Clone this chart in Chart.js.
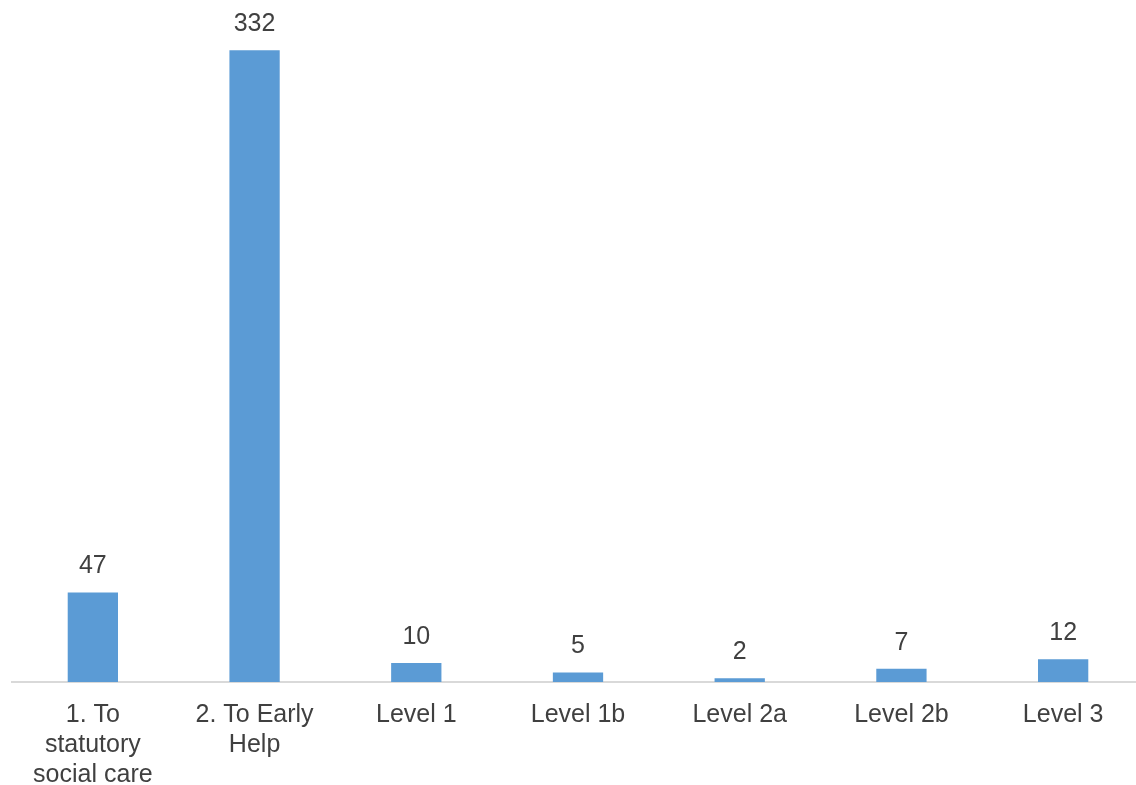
<!DOCTYPE html>
<html>
<head>
<meta charset="utf-8">
<script src="https://cdn.jsdelivr.net/npm/chart.js@4/dist/chart.umd.min.js"></script>
<style>
  html, body { margin:0; padding:0; background:#fff; overflow:hidden; }
  #wrap { position:relative; width:1144px; height:785px; }
</style>
</head>
<body>
<div id="wrap"><canvas id="referralChart"></canvas></div>
<script>
// categories (already wrapped the way the original shows them)
var categories = [
  ['1. To', 'statutory', 'social care'],
  ['2. To Early', 'Help'],
  'Level 1',
  'Level 1b',
  'Level 2a',
  'Level 2b',
  'Level 3'
];
var counts = [47, 332, 10, 5, 2, 7, 12];
var yMax = 350;

// value labels above each bar
var valueLabels = {
  id: 'valueLabels',
  afterDatasetsDraw: function(chart){
    var ctx = chart.ctx;
    var meta = chart.getDatasetMeta(0);
    ctx.save();
    ctx.font = '25px "Liberation Sans", Arial, sans-serif';
    ctx.fillStyle = '#404040';
    ctx.textAlign = 'center';
    ctx.textBaseline = 'middle';
    meta.data.forEach(function(bar, i){
      ctx.fillText(String(counts[i]), bar.x, bar.y - 26);
    });
    ctx.restore();
  }
};

new Chart(document.getElementById('referralChart'), {
  type: 'bar',
  data: {
    labels: categories,
    datasets: [{ data: counts, backgroundColor: '#5b9bd5', categoryPercentage: 1, barPercentage: 0.311 }]
  },
  options: {
    responsive: true,
    maintainAspectRatio: false,
    animation: false,
    layout: { padding: { left: 12, right: 0, top: 16, bottom: -23 } },
    plugins: { legend: { display: false }, tooltip: { enabled: false } },
    scales: {
      x: {
        grid: { display: false, drawTicks: false },
        border: { display: true, color: '#d9d9d9', width: 2 },
        ticks: {
          color: '#404040',
          padding: 18,
          maxRotation: 0,
          autoSkip: false,
          font: { family: '"Liberation Sans", Arial, sans-serif', size: 25, lineHeight: 1.2 }
        }
      },
      y: { display: false, min: 0, max: yMax }
    }
  },
  plugins: [valueLabels]
});
</script>
</body>
</html>
